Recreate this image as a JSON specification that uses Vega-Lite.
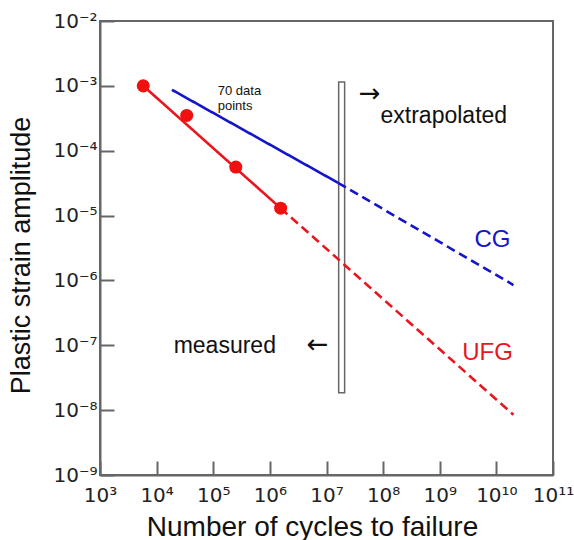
{
  "$schema": "https://vega.github.io/schema/vega-lite/v6.json",
  "width": 453,
  "height": 454,
  "autosize": {"type": "none"},
  "padding": {"left": 100, "top": 21, "right": 21, "bottom": 65},
  "background": "white",
  "config": {
    "view": {"stroke": "#666666", "strokeWidth": 2},
    "font": "Liberation Sans",
    "axis": {"grid": false}
  },
  "datasets": {
    "bar": [{"cycles": 1.64e7, "cycles2": 2.09e7, "strain": 1.15e-3, "strain2": 1.86e-8}],
    "lines": [
      {"grp": "UFG-solid", "series": "UFG", "style": "solid", "cycles": 5.8e3, "strain": 1.0e-3},
      {"grp": "UFG-solid", "series": "UFG", "style": "solid", "cycles": 1.55e6, "strain": 1.3e-5},
      {"grp": "UFG-dashed", "series": "UFG", "style": "dashed", "cycles": 1.55e6, "strain": 1.3e-5},
      {"grp": "UFG-dashed", "series": "UFG", "style": "dashed", "cycles": 2.0e10, "strain": 8.5e-9},
      {"grp": "CG-solid", "series": "CG", "style": "solid", "cycles": 1.86e4, "strain": 8.7e-4},
      {"grp": "CG-solid", "series": "CG", "style": "solid", "cycles": 1.6e7, "strain": 3.2e-5},
      {"grp": "CG-dashed", "series": "CG", "style": "dashed", "cycles": 1.6e7, "strain": 3.2e-5},
      {"grp": "CG-dashed", "series": "CG", "style": "dashed", "cycles": 2.0e10, "strain": 8.5e-7}
    ],
    "points": [
      {"series": "UFG", "cycles": 5.8e3, "strain": 1.0e-3},
      {"series": "UFG", "cycles": 3.4e4, "strain": 3.5e-4},
      {"series": "UFG", "cycles": 2.5e5, "strain": 5.6e-5},
      {"series": "UFG", "cycles": 1.55e6, "strain": 1.3e-5}
    ],
    "seriesLabels": [
      {"series": "CG", "label": "CG", "cycles": 4.1e9, "strain": 4.2e-6},
      {"series": "UFG", "label": "UFG", "cycles": 2.5e9, "strain": 7.7e-8}
    ],
    "notes": [
      {"label": "extrapolated", "cycles": 9.0e7, "strain": 3.4e-4},
      {"label": "measured", "cycles": 2.0e4, "strain": 9.8e-8}
    ],
    "arrows": [
      {"label": "→", "cycles": 3.7e7, "strain": 7.4e-4},
      {"label": "←", "cycles": 4.5e6, "strain": 1.0e-7}
    ],
    "small": [
      {"label": "70 data", "cycles": 1.2e5, "strain": 8.4e-4},
      {"label": "points", "cycles": 1.2e5, "strain": 4.9e-4}
    ]
  },
  "layer": [
    {
      "data": {"name": "bar"},
      "mark": {"type": "rect", "fill": null, "fillOpacity": 0, "stroke": "#666666", "strokeWidth": 1.5},
      "encoding": {
        "x": {
          "field": "cycles", "type": "quantitative",
          "scale": {"type": "log", "domain": [1e3, 1e11], "nice": false},
          "axis": {
            "title": "Number of cycles to failure",
            "values": [1e3, 1e4, 1e5, 1e6, 1e7, 1e8, 1e9, 1e10, 1e11],
            "labelExpr": "['10³','10⁴','10⁵','10⁶','10⁷','10⁸','10⁹','10¹⁰','10¹¹'][round(log(datum.value)/LN10)-3]",
            "domainColor": "#666666", "domainWidth": 2,
            "tickColor": "#666666", "tickWidth": 2, "tickSize": -14,
            "labelFont": "DejaVu Sans", "labelFontSize": 20, "labelColor": "#222222", "labelPadding": 24,
            "labelFlush": false, "labelOverlap": false,
            "titleFontSize": 28, "titleFontWeight": "normal", "titleColor": "#111111",
            "titleX": 212, "titleY": 60, "titleBaseline": "alphabetic", "titleAnchor": null
          }
        },
        "x2": {"field": "cycles2"},
        "y": {
          "field": "strain", "type": "quantitative",
          "scale": {"type": "log", "domain": [1e-9, 1e-2], "nice": false},
          "axis": {
            "title": "Plastic strain amplitude",
            "values": [1e-9, 1e-8, 1e-7, 1e-6, 1e-5, 1e-4, 1e-3, 1e-2],
            "labelExpr": "['10⁻⁹','10⁻⁸','10⁻⁷','10⁻⁶','10⁻⁵','10⁻⁴','10⁻³','10⁻²'][round(log(datum.value)/LN10)+9]",
            "domainColor": "#666666", "domainWidth": 2,
            "tickColor": "#666666", "tickWidth": 2, "tickSize": -14,
            "labelFont": "DejaVu Sans", "labelFontSize": 20, "labelColor": "#222222", "labelPadding": 17,
            "labelFlush": false, "labelOverlap": false,
            "titleFontSize": 27, "titleFontWeight": "normal", "titleColor": "#111111",
            "titleX": -71, "titleY": 234, "titleBaseline": "alphabetic", "titleAlign": "center", "titleAngle": -90
          }
        },
        "y2": {"field": "strain2"}
      }
    },
    {
      "data": {"name": "lines"},
      "mark": {"type": "line", "strokeWidth": 2.6},
      "encoding": {
        "x": {"field": "cycles", "type": "quantitative"},
        "y": {"field": "strain", "type": "quantitative"},
        "detail": {"field": "grp"},
        "color": {"field": "series", "type": "nominal", "scale": {"domain": ["UFG", "CG"], "range": ["#e8161e", "#1414c8"]}, "legend": null},
        "strokeDash": {"field": "style", "type": "nominal", "scale": {"domain": ["solid", "dashed"], "range": [[1, 0], [9, 5]]}, "legend": null}
      }
    },
    {
      "data": {"name": "points"},
      "mark": {"type": "point", "shape": "circle", "filled": true, "opacity": 1, "size": 170, "color": "#f01010"},
      "encoding": {
        "x": {"field": "cycles", "type": "quantitative"},
        "y": {"field": "strain", "type": "quantitative"}
      }
    },
    {
      "data": {"name": "seriesLabels"},
      "mark": {"type": "text", "fontSize": 24, "align": "left", "baseline": "middle"},
      "encoding": {
        "x": {"field": "cycles", "type": "quantitative"},
        "y": {"field": "strain", "type": "quantitative"},
        "text": {"field": "label"},
        "color": {"field": "series", "type": "nominal", "legend": null}
      }
    },
    {
      "data": {"name": "notes"},
      "mark": {"type": "text", "fontSize": 23, "align": "left", "baseline": "middle", "color": "#111111"},
      "encoding": {
        "x": {"field": "cycles", "type": "quantitative"},
        "y": {"field": "strain", "type": "quantitative"},
        "text": {"field": "label"}
      }
    },
    {
      "data": {"name": "arrows"},
      "mark": {"type": "text", "font": "DejaVu Sans", "fontSize": 26, "align": "left", "baseline": "middle", "color": "#111111"},
      "encoding": {
        "x": {"field": "cycles", "type": "quantitative"},
        "y": {"field": "strain", "type": "quantitative"},
        "text": {"field": "label"}
      }
    },
    {
      "data": {"name": "small"},
      "mark": {"type": "text", "fontSize": 13, "align": "left", "baseline": "middle", "color": "#111111"},
      "encoding": {
        "x": {"field": "cycles", "type": "quantitative"},
        "y": {"field": "strain", "type": "quantitative"},
        "text": {"field": "label"}
      }
    }
  ]
}
